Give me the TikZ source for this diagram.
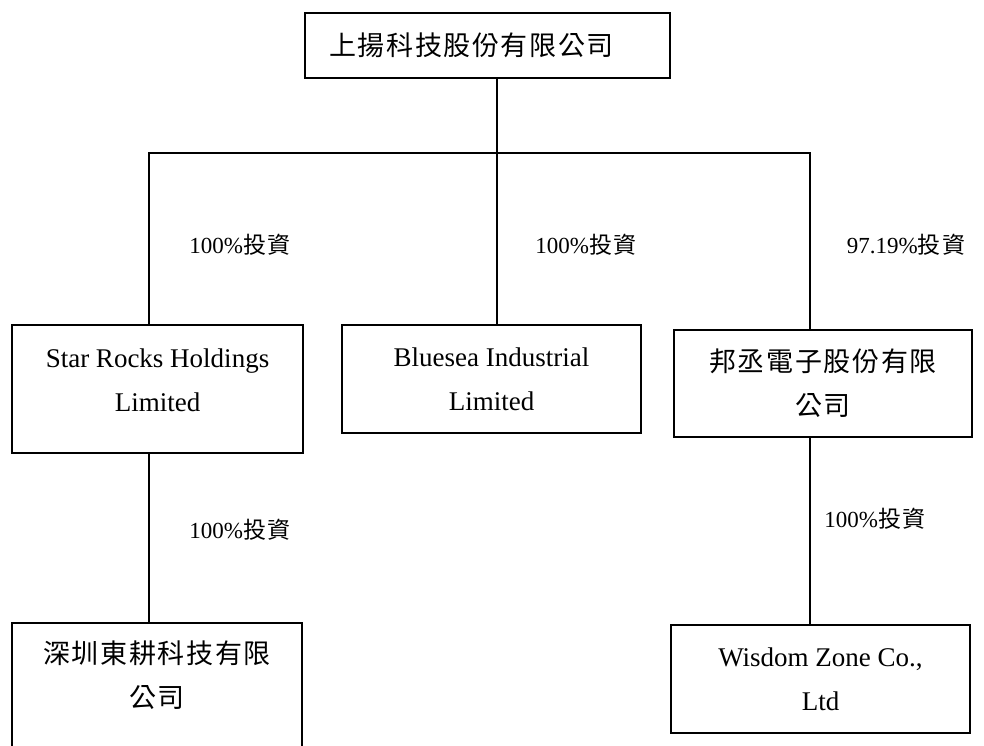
\documentclass[tikz,border=0pt]{standalone}
\usepackage{fontspec}
\setmainfont{Liberation Serif}
\newfontfamily\cjk[LetterSpace=6]{Noto Sans CJK TC}
\usetikzlibrary{positioning}

\begin{document}
\begin{tikzpicture}[
    x=1pt, y=-1pt,
    box/.style={rectangle, draw, line width=2.2pt, align=center, inner sep=0pt, font=\fontsize{27}{44}\selectfont},
    share/.style={font=\fontsize{23}{26}\selectfont},
    link/.style={line width=2pt}
]
\useasboundingbox (0,0) rectangle (984,746);

\node[box, minimum width=365pt, minimum height=65pt] (top) at (487.5,45.5) {{\cjk 上揚科技股份有限公司}\hspace*{32pt}};

\node[box, minimum width=291pt, minimum height=128pt] (sr) at (157.5,389) {};
\node[box, draw=none] (srname) at (157.5,380) {Star Rocks Holdings\\Limited};
\node[box, minimum width=299pt, minimum height=108pt] (bs) at (491.5,379) {Bluesea Industrial\\Limited};
\node[box, minimum width=298pt, minimum height=107pt] (bz) at (823,383.5) {{\cjk 邦丞電子股份有限}\\{\cjk 公司}};
\node[box, minimum width=290pt, minimum height=150pt, anchor=north] (sz) at (157,622) {};
\node[box, draw=none] (szname) at (157,675) {{\cjk 深圳東耕科技有限}\\{\cjk 公司}};
\node[box, minimum width=299pt, minimum height=108pt] (wz) at (820.5,679) {Wisdom Zone Co.,\\Ltd};

\coordinate (hub) at (497,153);
\coordinate (hl) at (149,153);
\coordinate (hr) at (810,153);

\draw[link] (top.south -| hub) -- (hub);
\draw[link] (sr.north -| hl) -- (hl) -- (hr) -- (bz.north -| hr);
\draw[link] (hub) -- (bs.north -| hub);
\draw[link] (sr.south -| hl) -- (sz.north -| hl);
\draw[link] (bz.south -| hr) -- (wz.north -| hr);

\node[share] (p1) at (240,245) {100\%{\cjk 投資}};
\node[share] (p2) at (586,245) {100\%{\cjk 投資}};
\node[share] (p3) at (906,245) {97.19\%{\cjk 投資}};
\node[share] (p4) at (240,530) {100\%{\cjk 投資}};
\node[share] (p5) at (875,519) {100\%{\cjk 投資}};
\end{tikzpicture}
\end{document}
